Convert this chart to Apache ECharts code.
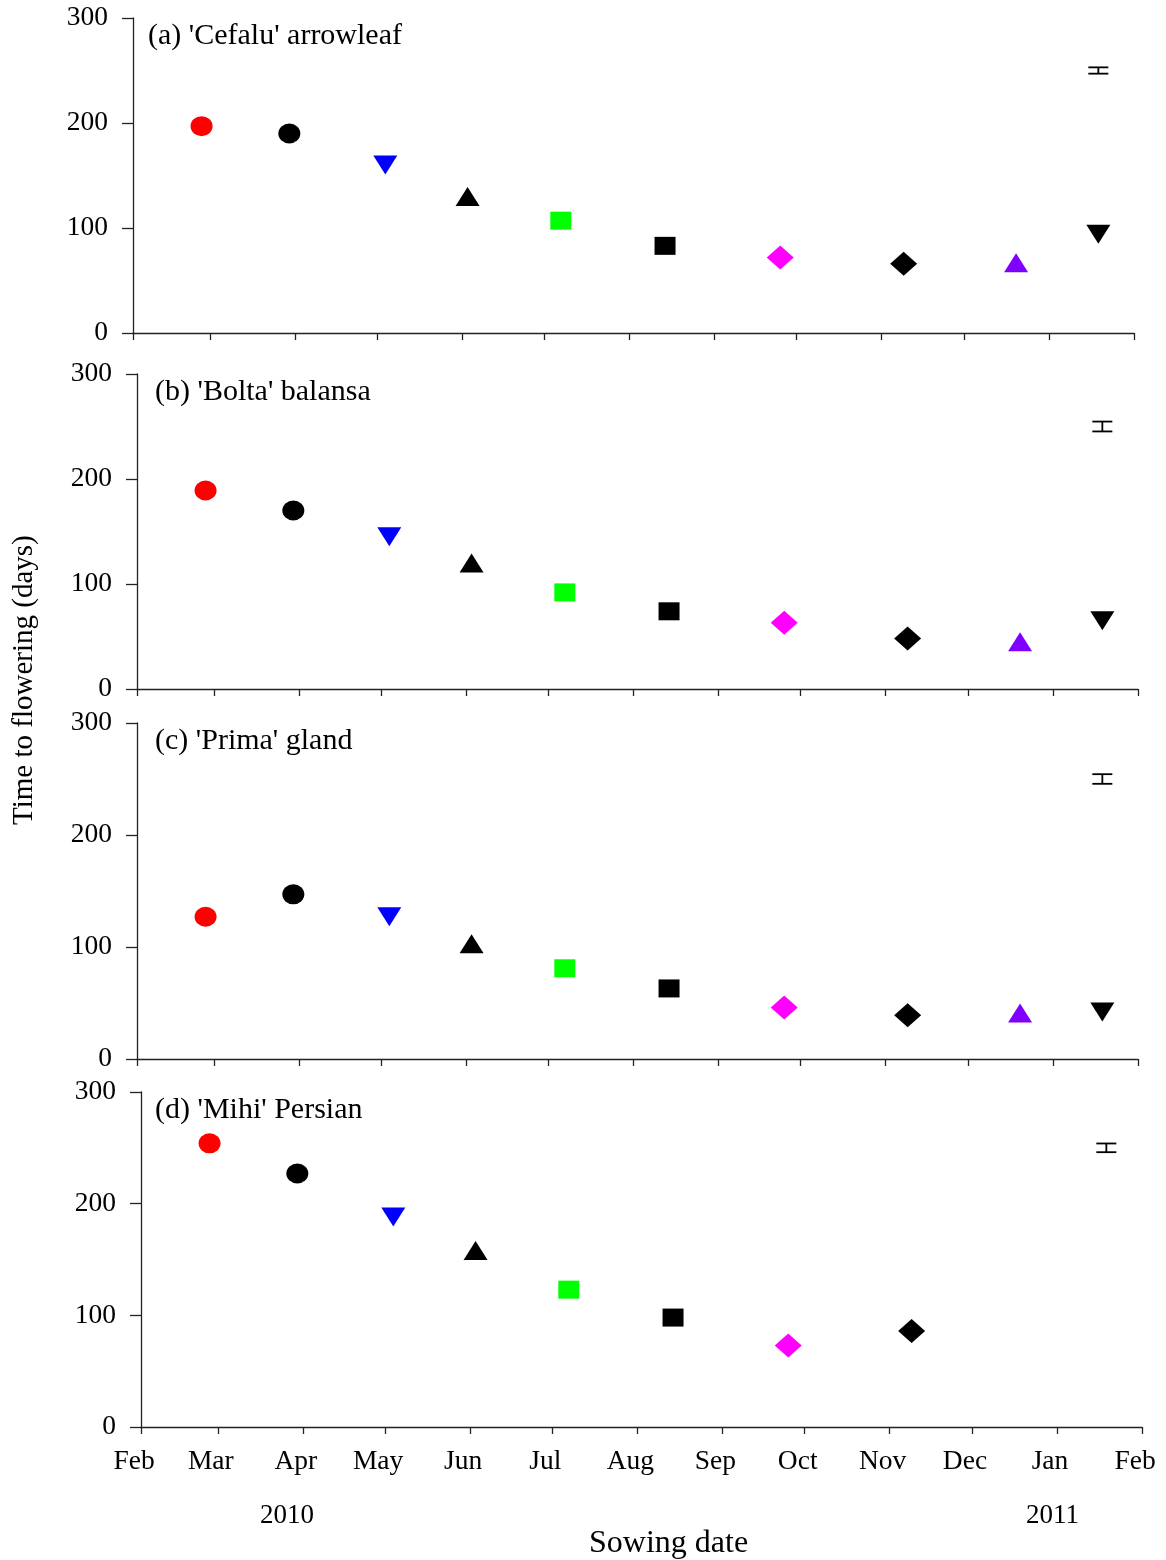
<!DOCTYPE html>
<html>
<head>
<meta charset="utf-8">
<script src="https://cdn.jsdelivr.net/npm/echarts@6/dist/echarts.min.js"></script>
<style>
html,body{margin:0;padding:0;background:#fff;}
#chart{width:1166px;height:1560px;}
</style>
</head>
<body>
<div id="chart"></div>
<script>
// ---- data ----
const sowingDates = ['2010-02-26','2010-03-30','2010-05-04','2010-06-03','2010-07-07','2010-08-14','2010-09-25','2010-11-09','2010-12-20','2011-01-19'];
const panelTitles = ["(a) 'Cefalu' arrowleaf", "(b) 'Bolta' balansa", "(c) 'Prima' gland", "(d) 'Mihi' Persian"];
const cefalu = [197, 190, 160, 130, 107, 83, 72, 66, 67, 94];
const bolta  = [189, 170, 145, 120, 92, 74, 63, 48, 45, 65];
const prima  = [127, 147, 127, 103, 81, 63, 46, 39, 41, 42];
const mihi   = [254, 227, 188, 158, 123, 98, 73, 86, null, null];
const lsdHalf = [3, 4.7, 4.3, 3.9];
const lsdCentre = 250;
const lsdDate = '2011-01-19';
const monthLabels = ['Feb','Mar','Apr','May','Jun','Jul','Aug','Sep','Oct','Nov','Dec','Jan','Feb'];
const monthStarts = ['2010-02-01','2010-03-01','2010-04-01','2010-05-01','2010-06-01','2010-07-01','2010-08-01','2010-09-01','2010-10-01','2010-11-01','2010-12-01','2011-01-01','2011-02-01'];
const yearLabels = ['2010','2011'];

// ---- helpers ----
const origin = Date.UTC(2010, 1, 1);
function dayOf(s){ const p = s.split('-').map(Number); return Math.round((Date.UTC(p[0], p[1]-1, p[2]) - origin) / 86400000); }
const tickDays = monthStarts.map(dayOf);

const symbols = ['circle','circle','triangle','triangle','rect','rect','diamond','diamond','triangle','triangle'];
const rotations = [0,0,180,0,0,0,0,0,0,180];
const colors = ['#ff0000','#000000','#0000ff','#000000','#00ff00','#000000','#ff00ff','#000000','#8000ff','#000000'];
const sizes = {circle:[22,20], triangle:[24,19], rect:[21,18], diamond:[27,24]};

const panels = [cefalu, bolta, prima, mihi];
const grids = [
  {left:133, top:18, width:1001, height:315},
  {left:137, top:374, width:1001, height:315},
  {left:137, top:723, width:1001, height:336},
  {left:141, top:1092, width:1001, height:335}
];
const titleLeft = [148, 155, 155, 155];
const FONT = '"Liberation Serif", "Times New Roman", serif';
const axisColor = '#222';

const option = {
  animation:false,
  backgroundColor:'#fff',
  grid: grids,
  title: panels.map((p,i)=>({
    text: panelTitles[i], left: titleLeft[i], top: grids[i].top + 3, padding:0,
    textStyle:{fontFamily:FONT, fontSize:30, fontWeight:'normal', color:'#000'}
  })),
  xAxis: panels.map((p,i)=>({
    type:'value', gridIndex:i, min:0, max:365,
    axisLine:{show:true, onZero:false, lineStyle:{color:axisColor, width:1.3}},
    axisTick:{show:true, inside:false, length:7, customValues: tickDays, lineStyle:{color:axisColor, width:1.3}},
    axisLabel:{show: i===3, customValues: tickDays, margin:21, padding:[0,14,0,0],
      fontFamily:FONT, fontSize:27.5, color:'#000',
      formatter:(v)=>{ const k = tickDays.indexOf(Math.round(v)); return k>=0 ? monthLabels[k] : ''; }},
    splitLine:{show:false}
  })),
  yAxis: panels.map((p,i)=>({
    type:'value', gridIndex:i, min:0, max:300, interval:100,
    axisLine:{show:true, lineStyle:{color:axisColor, width:1.3}},
    axisTick:{show:true, inside:false, length:11, lineStyle:{color:axisColor, width:1.3}},
    axisLabel:{margin:25, fontFamily:FONT, fontSize:27.5, color:'#000'},
    splitLine:{show:false}
  })),
  series: [],
  graphic: [
    {type:'text', left: 287 - 27, top: 1502, style:{text: yearLabels[0], font:'27px ' + FONT, fill:'#000'}},
    {type:'text', left: 1053 - 27, top: 1502, style:{text: yearLabels[1], font:'27px ' + FONT, fill:'#000'}},
    {type:'text', left: 589, top: 1528, style:{text:'Sowing date', font:'32px ' + FONT, fill:'#000'}},
    {type:'text', rotation: Math.PI/2, x: 10, y: 825, style:{text:'Time to flowering (days)', font:'29px ' + FONT, fill:'#000'}}
  ]
};

panels.forEach((vals, i)=>{
  const data = [];
  vals.forEach((v, k)=>{
    if (v === null) return;
    data.push({
      value:[dayOf(sowingDates[k]), v],
      symbol: symbols[k],
      symbolSize: sizes[symbols[k]],
      symbolRotate: rotations[k],
      itemStyle:{color: colors[k], opacity:1}
    });
  });
  option.series.push({type:'scatter', xAxisIndex:i, yAxisIndex:i, data: data, z:5, itemStyle:{opacity:1}});
  option.series.push({
    type:'custom', xAxisIndex:i, yAxisIndex:i,
    data:[[dayOf(lsdDate), lsdCentre, lsdHalf[i]]],
    renderItem:(params, api)=>{
      const x = api.value(0), c = api.value(1), h = api.value(2);
      const top = api.coord([x, c + h]);
      const bot = api.coord([x, c - h]);
      const w = 10;
      const st = {stroke:'#000', lineWidth:1.8};
      return {type:'group', children:[
        {type:'line', shape:{x1:top[0], y1:top[1], x2:bot[0], y2:bot[1]}, style:st},
        {type:'line', shape:{x1:top[0]-w, y1:top[1], x2:top[0]+w, y2:top[1]}, style:st},
        {type:'line', shape:{x1:bot[0]-w, y1:bot[1], x2:bot[0]+w, y2:bot[1]}, style:st}
      ]};
    }
  });
});

const chart = echarts.init(document.getElementById('chart'), null, {renderer:'canvas'});
chart.setOption(option);
</script>
</body>
</html>
